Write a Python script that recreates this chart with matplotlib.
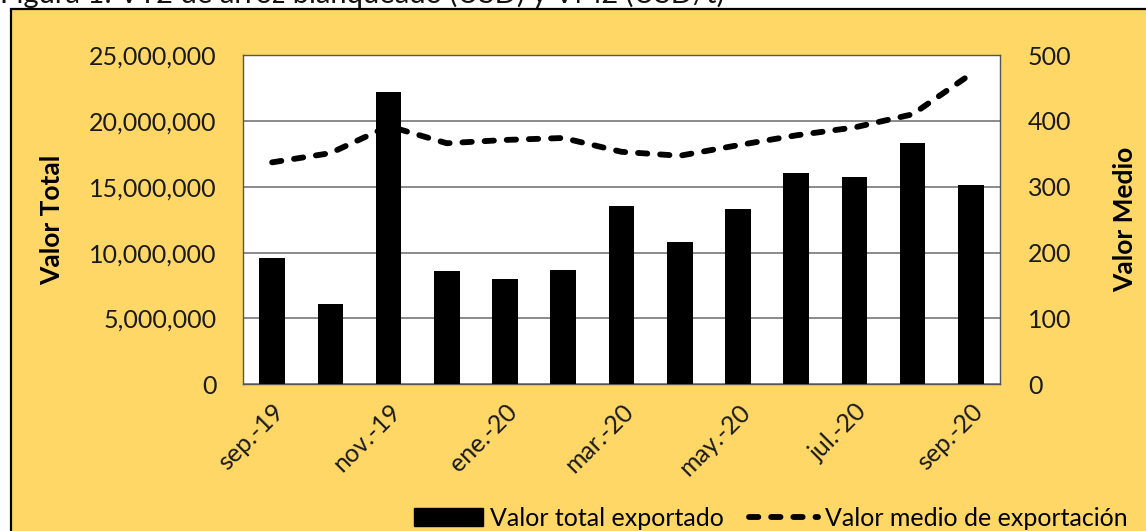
import matplotlib.pyplot as plt
from matplotlib.patches import Rectangle
from matplotlib.lines import Line2D
from matplotlib.ticker import FuncFormatter
from matplotlib.transforms import ScaledTranslation
import numpy as np

# monthly export data
months = ["sep.-19", "oct.-19", "nov.-19", "dic.-19", "ene.-20", "feb.-20", "mar.-20",
          "abr.-20", "may.-20", "jun.-20", "jul.-20", "ago.-20", "sep.-20"]
valor_total = [9620000, 6100000, 22200000, 8570000, 7960000, 8670000, 13570000,
               10800000, 13320000, 16010000, 15700000, 18350000, 15160000]
valor_medio = [337, 351, 392, 366, 371, 374, 353, 347, 363, 378, 390, 410, 471]

yellow = "#FED766"
plt.rcParams['font.family'] = ['Lato', 'DejaVu Sans']

fig = plt.figure(figsize=(11.46, 5.31), dpi=100)
fig.patch.set_facecolor("white")

# yellow panel with black frame (cut by the image edges)
W, H = 1146, 531
fig.patches.append(Rectangle((11 / W, -0.1), 1.2, 1.1 - 9 / H, transform=fig.transFigure,
                             facecolor=yellow, edgecolor="black", linewidth=1.6, zorder=-5))
fig.text(0.0, 1 - 2.5 / H, "Figura 1: VT2 de arroz blanqueado (USD) y VM2 (USD/t)",
         fontsize=21, va="baseline", ha="left", color="#111111")

ax = fig.add_axes([243 / W, 1 - 384.3 / H, 757 / W, (384.3 - 55) / H])
ax.set_facecolor("white")
x = np.arange(len(months))
ax.bar(x, valor_total, width=0.44, color="black", zorder=3)
ax.set_xlim(-0.5, len(months) - 0.5)
ax.set_ylim(0, 25000000)
ax.set_yticks(np.arange(0, 25000001, 5000000))
ax.yaxis.set_major_formatter(FuncFormatter(lambda v, p: f"{int(v):,}"))
ax.grid(axis="y", color="#8a8a8a", linewidth=1.4, zorder=1)
ax.tick_params(axis="y", length=0, pad=19, labelsize=18, labelcolor="#1a1a1a")
ax.tick_params(axis="x", length=0, pad=17, labelsize=18, labelcolor="#1a1a1a")
ax.set_xticks(x[::2])
ax.set_xticklabels(months[::2], rotation=45, ha="right", va="center", rotation_mode="anchor")
shift = ScaledTranslation(6 / 72, 0, fig.dpi_scale_trans)
for lbl in ax.get_xticklabels():
    lbl.set_transform(lbl.get_transform() + shift)
for s in ax.spines.values():
    s.set_color("#555555")
    s.set_linewidth(1.0)
ax.set_ylabel("Valor Total", fontsize=19, fontweight="bold")
ax.yaxis.set_label_coords(-0.236, 0.5)

ax2 = ax.twinx()
ax2.plot(x, valor_medio, color="black", linewidth=4.2, dashes=(1.6, 2.2),
         dash_capstyle="round", zorder=4)
ax2.set_ylim(0, 500)
ax2.set_yticks(np.arange(0, 501, 100))
ax2.tick_params(axis="y", length=0, pad=20, labelsize=18, labelcolor="#1a1a1a")
for s in ax2.spines.values():
    s.set_visible(False)
ax2.set_ylabel("Valor Medio", fontsize=19, fontweight="bold")
ax2.yaxis.set_label_coords(1.149, 0.5)

handles = [Rectangle((0, 0), 1, 1, facecolor="black", edgecolor="black"),
           Line2D([0], [0], color="black", linewidth=4.2, dashes=(1.6, 2.2),
                  dash_capstyle="round")]
fig.legend(handles, ["Valor total exportado", "Valor medio de exportación"],
           loc="center", bbox_to_anchor=(771 / W, 1 - 518 / H), ncol=2, frameon=False,
           fontsize=18, handlelength=2.76, handletextpad=0.28, columnspacing=1.0,
           borderpad=0, handleheight=0.75)

fig.savefig("out.png", dpi=100, facecolor=fig.get_facecolor())
